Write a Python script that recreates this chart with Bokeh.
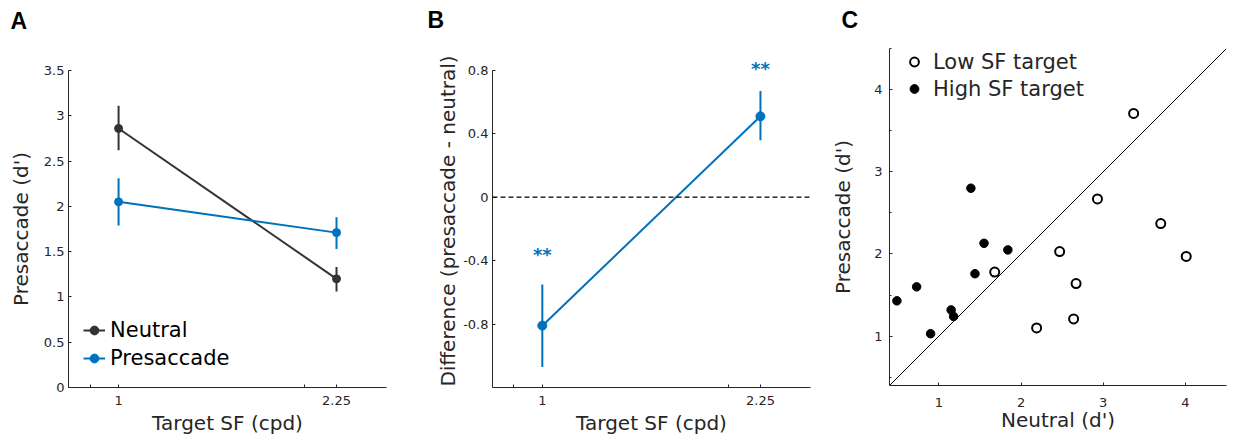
from bokeh.plotting import figure
from bokeh.models import (Range1d, FixedTicker, CustomJSTickFormatter, Legend, LegendItem,
                          Span, Slope, ColumnDataSource, Title)
from bokeh.layouts import row
from bokeh.embed import file_html
from bokeh.resources import INLINE
from bokeh.core.properties import value

# ---------------- data ----------------
# Panel A
sf = [1, 2.25]
neutral_mean = [2.86, 1.20]
neutral_lo = [2.62, 1.06]
neutral_hi = [3.11, 1.33]
presacc_mean = [2.05, 1.71]
presacc_lo = [1.79, 1.53]
presacc_hi = [2.31, 1.88]
a_yticks = [0, 0.5, 1, 1.5, 2, 2.5, 3, 3.5]
sf_ticks = [1, 2.25]
sf_minor = [0.9, 2]

# Panel B
diff_mean = [-0.81, 0.51]
diff_lo = [-1.07, 0.36]
diff_hi = [-0.55, 0.67]
sig_y = [-0.36, 0.81]
sig_text = ["**", "**"]
b_yticks = [-0.8, -0.4, 0, 0.4, 0.8]

# Panel C
low_neutral = [1.68, 2.19, 2.47, 2.64, 2.67, 2.93, 3.37, 3.70, 4.01]
low_presacc = [1.78, 1.10, 2.03, 1.21, 1.64, 2.67, 3.71, 2.37, 1.97]
high_neutral = [0.49, 0.73, 0.90, 1.15, 1.18, 1.39, 1.44, 1.55, 1.84]
high_presacc = [1.43, 1.60, 1.03, 1.32, 1.24, 2.80, 1.76, 2.13, 2.05]
c_ticks = [1, 2, 3, 4]
c_yminor = [0.5, 1.5, 2.5, 3.5, 4.5]

# ---------------- style ----------------
AX = "#262626"
GRAY = "#333333"
BLUE = "#0072BD"
FONT = "DejaVu Sans"
FMT = "return tick.toString();"


def base_fig(width, height, x_range, y_range, mbl, mbr, mbt, mbb, letter, offset, gap, x_log=False):
    p = figure(width=width, height=height, x_range=x_range, y_range=y_range,
               x_axis_type="log" if x_log else "linear",
               output_backend="svg", toolbar_location=None, title=letter,
               min_border_left=mbl, min_border_right=mbr,
               min_border_top=mbt, min_border_bottom=mbb)
    p.frame_align = False
    p.outline_line_color = None
    p.grid.visible = False
    p.background_fill_color = "white"
    p.border_fill_color = "white"
    # spacer between frame and the panel letter
    p.add_layout(Title(text=" ", text_font_size="1px", standoff=gap), "above")
    p.title.align = "left"
    p.title.offset = offset
    p.title.standoff = 0
    p.title.text_font = "Liberation Sans"
    p.title.text_font_style = "bold"
    p.title.text_font_size = "23px"
    p.title.text_color = "black"
    for ax in (p.xaxis[0], p.yaxis[0]):
        ax.axis_line_color = AX
        ax.axis_line_width = 1
        ax.major_tick_line_color = AX
        ax.minor_tick_line_color = AX
        ax.major_tick_in = 3
        ax.major_tick_out = 0
        ax.minor_tick_in = 3
        ax.minor_tick_out = 0
        ax.major_label_text_font = FONT
        ax.major_label_text_font_size = "13px"
        ax.major_label_text_color = AX
        ax.axis_label_text_font = FONT
        ax.axis_label_text_font_size = "20px"
        ax.axis_label_text_font_style = "normal"
        ax.axis_label_text_color = AX
        ax.formatter = CustomJSTickFormatter(code=FMT)
    return p


# ---------------- Panel A ----------------
pa = base_fig(420, 439, Range1d(0.83, 2.71), Range1d(0, 3.5), 68, 34, 70, 52,
              "A", -58, 34, x_log=True)
pa.xaxis.ticker = FixedTicker(ticks=sf_ticks, minor_ticks=sf_minor)
pa.yaxis.ticker = FixedTicker(ticks=a_yticks)
pa.xaxis.axis_label = "Target SF (cpd)"
pa.yaxis.axis_label = "Presaccade (d')"
pa.xaxis.major_label_standoff = 8
pa.xaxis.axis_label_standoff = 3
pa.yaxis.major_label_standoff = 4
pa.yaxis.axis_label_standoff = 8

src_n = ColumnDataSource(dict(x=sf, y=neutral_mean, lo=neutral_lo, hi=neutral_hi))
src_p = ColumnDataSource(dict(x=sf, y=presacc_mean, lo=presacc_lo, hi=presacc_hi))
empty = ColumnDataSource(dict(x=[], y=[]))

ln_n = pa.line("x", "y", source=src_n, line_color=GRAY, line_width=2)
ln_p = pa.line("x", "y", source=src_p, line_color=BLUE, line_width=2)
pa.segment("x", "lo", "x", "hi", source=src_n, line_color=GRAY, line_width=2)
pa.segment("x", "lo", "x", "hi", source=src_p, line_color=BLUE, line_width=2)
sc_n = pa.scatter("x", "y", source=src_n, marker="circle", size=8, fill_color=GRAY, line_color=GRAY)
sc_p = pa.scatter("x", "y", source=src_p, marker="circle", size=8, fill_color=BLUE, line_color=BLUE)
cr_n = pa.scatter("x", "y", source=empty, marker="cross", size=8, line_color=GRAY, line_width=2)
cr_p = pa.scatter("x", "y", source=empty, marker="cross", size=8, line_color=BLUE, line_width=2)

leg_a = Legend(items=[LegendItem(label="Neutral", renderers=[ln_n, cr_n, sc_n]),
                      LegendItem(label="Presaccade", renderers=[ln_p, cr_p, sc_p])],
               location=(15, 15), border_line_color=None, background_fill_alpha=0,
               padding=0, margin=0, spacing=0, glyph_width=22, glyph_height=28,
               label_height=28, label_standoff=5, label_text_font=FONT,
               label_text_font_size="21px", label_text_color="black")
pa.add_layout(leg_a)

# ---------------- Panel B ----------------
pb = base_fig(400, 439, Range1d(0.831, 2.71), Range1d(-1.2, 0.9), 72, 10, 54, 52,
              "B", -65, 19, x_log=True)
pb.xaxis.ticker = FixedTicker(ticks=sf_ticks, minor_ticks=sf_minor)
pb.yaxis.ticker = FixedTicker(ticks=b_yticks)
pb.yaxis.bounds = (-1.2, 0.8)
pb.xaxis.axis_label = "Target SF (cpd)"
pb.yaxis.axis_label = "Difference (presaccade - neutral)"
pb.xaxis.major_label_standoff = 8
pb.xaxis.axis_label_standoff = 3
pb.yaxis.major_label_standoff = 4
pb.yaxis.axis_label_standoff = 0

pb.add_layout(Span(location=0, dimension="width", line_color="black",
                   line_width=1.3, line_dash="5 3"))
src_d = ColumnDataSource(dict(x=sf, y=diff_mean, lo=diff_lo, hi=diff_hi, sy=sig_y, t=sig_text))
pb.line("x", "y", source=src_d, line_color=BLUE, line_width=2)
pb.segment("x", "lo", "x", "hi", source=src_d, line_color=BLUE, line_width=2)
pb.scatter("x", "y", source=src_d, marker="circle", size=9, fill_color=BLUE, line_color=BLUE)
pb.text("x", "sy", text="t", source=src_d, text_color=BLUE, text_font=value(FONT),
        text_font_style="bold", text_font_size="18px", text_align="center",
        text_baseline="middle")

# ---------------- Panel C ----------------
pc = base_fig(413, 439, Range1d(0.4, 4.5), Range1d(0.4, 4.5), 69, 7, 48, 54,
              "C", -48, 13)
pc.xaxis.ticker = FixedTicker(ticks=c_ticks)
pc.yaxis.ticker = FixedTicker(ticks=c_ticks, minor_ticks=c_yminor)
pc.yaxis.minor_tick_in = 2
pc.xaxis.axis_label = "Neutral (d')"
pc.yaxis.axis_label = "Presaccade (d')"
pc.xaxis.major_label_standoff = 12
pc.xaxis.axis_label_standoff = -2
pc.yaxis.major_label_standoff = 7
pc.yaxis.axis_label_standoff = 16

pc.add_layout(Slope(gradient=1, y_intercept=0, line_color="black", line_width=1))
r_low = pc.scatter(low_neutral, low_presacc, marker="circle", size=9,
                   fill_color="white", line_color="black", line_width=2)
r_high = pc.scatter(high_neutral, high_presacc, marker="circle", size=8.5,
                    fill_color="black", line_color="black")
leg_c = Legend(items=[LegendItem(label="Low SF target", renderers=[r_low]),
                      LegendItem(label="High SF target", renderers=[r_high])],
               location=(14, 283), border_line_color=None, background_fill_alpha=0,
               padding=0, margin=0, spacing=0, glyph_width=22, glyph_height=27,
               label_height=27, label_standoff=8, label_text_font=FONT,
               label_text_font_size="21px", label_text_color=AX)
pc.add_layout(leg_c)

layout = row(pa, pb, pc)
open("out.html", "w").write(file_html(layout, INLINE))
